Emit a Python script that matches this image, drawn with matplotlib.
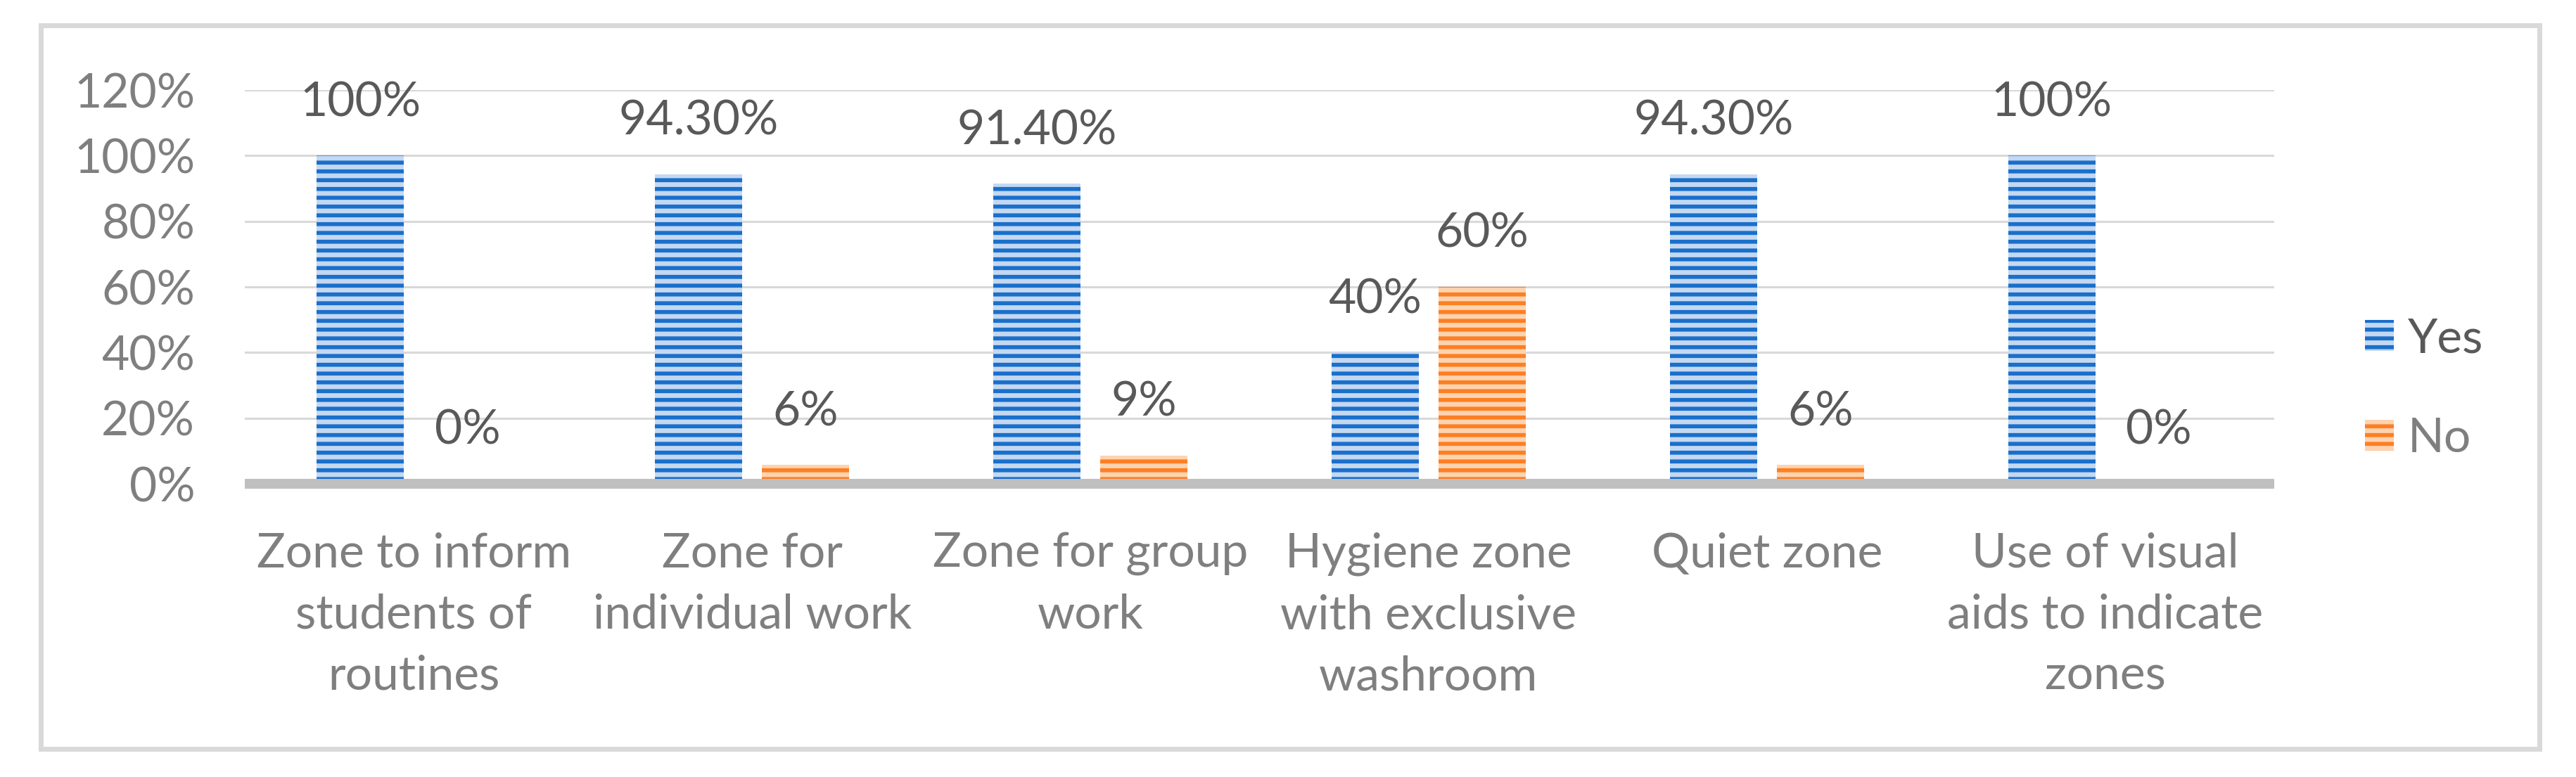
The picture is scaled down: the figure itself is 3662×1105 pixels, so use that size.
import matplotlib.pyplot as plt
import matplotlib.patches as mpatches
from matplotlib.ticker import FixedLocator
import numpy as np

## chart values
categories = ["Zone to inform\nstudents of\nroutines", "Zone for\nindividual work",
              "Zone for group\nwork", "Hygiene zone\nwith exclusive\nwashroom",
              "Quiet zone", "Use of visual\naids to indicate\nzones"]
yes_vals = [100, 94.3, 91.4, 40, 94.3, 100]
no_vals = [0, 5.7, 8.6, 60, 5.7, 0]
yes_labels = ["100%", "94.30%", "91.40%", "40%", "94.30%", "100%"]
no_labels = ["0%", "6%", "9%", "60%", "6%", "0%"]
y_ticks = [0, 20, 40, 60, 80, 100, 120]
series_names = ["Yes", "No"]

DPI = 75
W, H = 3662, 1105
FS = 65

plt.rcParams['font.family'] = ['Lato', 'DejaVu Sans']
plt.rcParams['hatch.linewidth'] = 5.5

fig = plt.figure(figsize=(W / DPI, H / DPI), dpi=DPI)
ax = fig.add_axes([348 / W, 1 - 688 / H, (3233 - 348) / W, (688 - 128) / H])

x = np.arange(len(categories))
bw = 0.258
off = 0.158

b1 = ax.bar(x - off, yes_vals, bw, color='#c4d8f1', edgecolor='#1a6fcb',
            linewidth=0, hatch='-', label=series_names[0], zorder=3)
b2 = ax.bar(x + off, no_vals, bw, color='#fdd3b0', edgecolor='#fd7f24',
            linewidth=0, hatch='-', label=series_names[1], zorder=3)

for xi, v, lab in zip(x - off, yes_vals, yes_labels):
    ax.annotate(lab, (xi, v), xytext=(0, 54), textcoords='offset points',
                ha='center', va='baseline', fontsize=FS, color='#595959')
for xi, v, lab in zip(x + off, no_vals, no_labels):
    ax.annotate(lab, (xi, v), xytext=(0, 54), textcoords='offset points',
                ha='center', va='baseline', fontsize=FS, color='#595959')

ax.set_xlim(-0.5, len(categories) - 0.5)
ax.set_ylim(0, 120)
ax.yaxis.set_major_locator(FixedLocator(y_ticks))
ax.set_yticklabels([f"{t}%" for t in y_ticks])
ax.set_xticks(x)
ax.set_xticklabels(categories, linespacing=1.5)
ax.tick_params(axis='y', length=0, pad=68, labelsize=FS, labelcolor='#7f7f7f')
ax.tick_params(axis='x', length=0, pad=66, labelsize=FS, labelcolor='#7f7f7f')

ax.grid(axis='y', color='#d9d9d9', linewidth=3, zorder=0)
ax.set_axisbelow(True)
for s in ['top', 'right', 'left']:
    ax.spines[s].set_visible(False)
ax.spines['bottom'].set_color('#bfbfbf')
ax.spines['bottom'].set_linewidth(13.4)
ax.spines['bottom'].set_capstyle('butt')
ax.spines['bottom'].set_zorder(4)

leg = fig.legend(handles=[b1, b2], labels=series_names, loc='center left',
                 bbox_to_anchor=(3362 / W, 1 - 553 / H), frameon=False,
                 fontsize=FS, handlelength=0.6, handleheight=0.63,
                 handletextpad=0.3, labelspacing=1.18, borderpad=0, borderaxespad=0)
leg.get_texts()[0].set_color('#595959')
leg.get_texts()[1].set_color('#7f7f7f')

# outer chart border
fig.patches.append(mpatches.Rectangle((58 / W, 1 - 1065 / H), (3610 - 58) / W,
                                      (1065 - 36) / H, transform=fig.transFigure,
                                      fill=False, edgecolor='#d9d9d9', linewidth=6.7))

fig.savefig("out.png", dpi=DPI)
